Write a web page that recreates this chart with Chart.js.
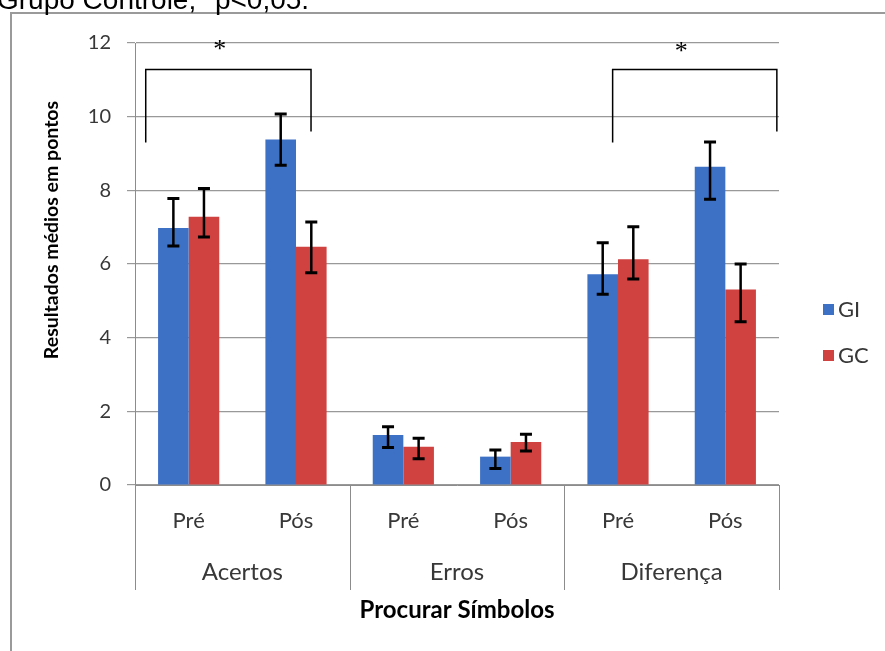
<!DOCTYPE html>
<html lang="pt">
<head>
<meta charset="UTF-8">
<title>Procurar Símbolos</title>
<script src="https://cdn.jsdelivr.net/npm/chart.js"></script>
<style>
    body { margin: 0; background: #fff; }
    #wrap { width: 885px; height: 651px; position: relative; }
</style>
</head>
<body>
<div id="wrap"><canvas id="chart"></canvas></div>
<script>
// values
const categories = ['Pré', 'Pós', 'Pré', 'Pós', 'Pré', 'Pós'];
const groups = ['Acertos', 'Erros', 'Diferença'];
const seriesNames = ['GI', 'GC'];
const giValues = [6.98, 9.38, 1.36, 0.77, 5.72, 8.64];
const gcValues = [7.28, 6.47, 1.04, 1.17, 6.13, 5.31];
const giErrHigh = [7.78, 10.07, 1.58, 0.95, 6.58, 9.31];
const giErrLow = [6.49, 8.68, 1.02, 0.45, 5.18, 7.76];
const gcErrHigh = [8.05, 7.14, 1.27, 1.38, 7.01, 6.00];
const gcErrLow = [6.73, 5.76, 0.71, 0.92, 5.59, 4.43];
const yMin = 0, yMax = 12, yStep = 2;

// significance brackets, in category index / value units
const brackets = [
    { from: -0.40, to: 1.14, top: 11.28, leftEnd: 9.30, rightEnd: 9.60, starX: 0.29, starY: 11.94 },
    { from: 3.95, to: 5.48, top: 11.28, leftEnd: 9.30, rightEnd: 9.60, starX: 4.59, starY: 11.89 }
];

const blue = '#3d71c6';
const red = '#cf4240';
const axisGray = '#8c8c8c';
const textGray = '#383838';
const FONT = 'Lato, "Open Sans", sans-serif';

function catPx(xs, v) {
    const p0 = xs.getPixelForValue(0);
    const step = xs.getPixelForValue(1) - p0;
    return p0 + v * step;
}

const overlay = {
    id: 'overlay',
    beforeDraw(chart) {
        const c = chart.ctx;
        c.save();
        c.fillStyle = '#fff';
        c.fillRect(0, 0, chart.width, chart.height);
        // outer frame
        c.strokeStyle = '#9a9a9a';
        c.lineWidth = 2;
        c.beginPath();
        c.moveTo(11, 651);
        c.lineTo(11, 13);
        c.lineTo(885, 13);
        c.stroke();
        // caption line cut at the top
        c.fillStyle = '#000';
        c.font = '28px "Liberation Sans", Arial, sans-serif';
        c.textAlign = 'left';
        c.textBaseline = 'alphabetic';
        c.fillText('Grupo Controle; *p<0,05.', -3, 9);
        c.restore();
    },
    afterDatasetsDraw(chart) {
        const c = chart.ctx;
        const ys = chart.scales.y;
        const errs = [[giErrLow, giErrHigh], [gcErrLow, gcErrHigh]];
        c.save();
        c.strokeStyle = '#000';
        chart.data.datasets.forEach((ds, di) => {
            const meta = chart.getDatasetMeta(di);
            meta.data.forEach((bar, i) => {
                const x = bar.x;
                const yHi = ys.getPixelForValue(errs[di][1][i]);
                const yLo = ys.getPixelForValue(errs[di][0][i]);
                c.lineWidth = 2.5;
                c.beginPath();
                c.moveTo(x, yHi);
                c.lineTo(x, yLo);
                c.stroke();
                c.lineWidth = 3;
                c.beginPath();
                c.moveTo(x - 6, yHi);
                c.lineTo(x + 6, yHi);
                c.moveTo(x - 6, yLo);
                c.lineTo(x + 6, yLo);
                c.stroke();
            });
        });
        c.restore();
    },
    afterDraw(chart) {
        const c = chart.ctx;
        const xs = chart.scales.x;
        const ys = chart.scales.y;
        const area = chart.chartArea;
        c.save();

        // brackets and stars
        c.strokeStyle = '#000';
        c.lineWidth = 1.5;
        brackets.forEach(b => {
            const x1 = catPx(xs, b.from), x2 = catPx(xs, b.to);
            const yt = ys.getPixelForValue(b.top);
            c.beginPath();
            c.moveTo(x1, ys.getPixelForValue(b.leftEnd));
            c.lineTo(x1, yt);
            c.lineTo(x2, yt);
            c.lineTo(x2, ys.getPixelForValue(b.rightEnd));
            c.stroke();
            c.fillStyle = '#000';
            c.font = '26px "Liberation Serif", serif';
            c.textAlign = 'center';
            c.textBaseline = 'middle';
            c.fillText('*', catPx(xs, b.starX), ys.getPixelForValue(b.starY) + 5);
        });

        // group separators under the axis
        c.strokeStyle = axisGray;
        c.lineWidth = 1;
        [-0.5, 1.5, 3.5, 5.5].forEach(v => {
            const x = Math.round(catPx(xs, v)) + 0.5;
            c.beginPath();
            c.moveTo(x, area.bottom);
            c.lineTo(x, 590);
            c.stroke();
        });

        // group labels
        c.fillStyle = textGray;
        c.font = '24px ' + FONT;
        c.textAlign = 'center';
        c.textBaseline = 'middle';
        groups.forEach((g, gi) => {
            c.fillText(g, catPx(xs, gi * 2 + 0.5), 572);
        });

        // axis titles
        c.fillStyle = '#000';
        c.font = 'bold 24px ' + FONT;
        c.fillText('Procurar Símbolos', 457, 610);
        c.save();
        c.translate(52, 230);
        c.rotate(-Math.PI / 2);
        c.font = 'bold 19.5px ' + FONT;
        c.fillText('Resultados médios em pontos', 0, 0);
        c.restore();

        // legend
        const legendY = [310, 356];
        const colors = [blue, red];
        c.font = '22px ' + FONT;
        c.textAlign = 'left';
        seriesNames.forEach((n, i) => {
            c.fillStyle = colors[i];
            c.fillRect(823, legendY[i] - 6, 11, 11);
            c.fillStyle = textGray;
            c.fillText(n, 838, legendY[i]);
        });
        c.restore();
    }
};

new Chart(document.getElementById('chart'), {
    type: 'bar',
    data: {
        labels: categories,
        datasets: [
            { label: seriesNames[0], data: giValues, backgroundColor: blue },
            { label: seriesNames[1], data: gcValues, backgroundColor: red }
        ]
    },
    options: {
        responsive: true,
        maintainAspectRatio: false,
        animation: false,
        categoryPercentage: 0.57,
        barPercentage: 1,
        layout: { padding: { left: 0, top: 43, right: 106, bottom: 0 } },
        plugins: {
            legend: { display: false },
            tooltip: { enabled: false }
        },
        scales: {
            x: {
                grid: { display: false, drawTicks: false },
                border: { display: true, color: axisGray, width: 1 },
                ticks: { color: textGray, font: { family: FONT, size: 22 }, padding: 23 },
                afterFit(s) { s.height = 166; }
            },
            y: {
                min: yMin,
                max: yMax,
                ticks: { stepSize: yStep, color: textGray, font: { family: FONT, size: 20 }, padding: 16 },
                grid: { color: '#999999', lineWidth: 1.2, tickLength: 8, tickColor: '#999999' },
                border: { display: true, color: axisGray, width: 1 },
                afterFit(s) { s.width = 135; }
            }
        }
    },
    plugins: [overlay]
});
</script>
</body>
</html>
